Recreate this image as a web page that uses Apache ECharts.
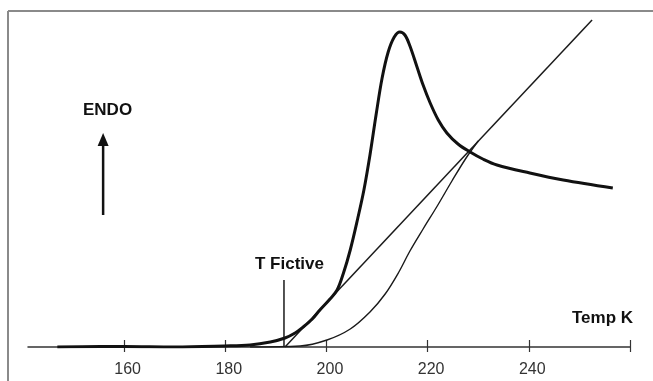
<!DOCTYPE html>
<html><head><meta charset="utf-8">
<script src="https://cdn.jsdelivr.net/npm/echarts@6/dist/echarts.min.js"></script>
<style>html,body{margin:0;padding:0;background:#fff}#c{width:653px;height:381px}</style>
</head><body><div id="c"></div>
<script>
// DSC heat-flow trace (arbitrary units) vs temperature (K)
const dscTemp   = [146.8, 155.3, 160, 170, 179.8, 184.9, 188.9, 191.8, 193.8, 195.4, 197.2, 198.7, 200.7, 202.1, 203.3, 204.7, 206.2, 207.4, 208.6, 209.8, 211.0, 212.2, 213.4, 214.5, 215.5, 216.5, 217.9, 219.1, 220.5, 222.1, 223.8, 226.0, 228.4, 230.9, 233.7, 240.2, 246.8, 256.6];
const dscSignal = [0, 0.5, 0.5, 0, 1, 2, 5, 9, 14, 20, 28, 37, 48, 57, 73, 97, 129, 157, 192, 232, 269, 295, 310, 315, 312, 301, 280, 262, 244, 227, 214, 203, 195, 188, 182, 174, 167, 159];
// Integrated (enthalpy-like) S-curve
const sTemp   = [184.9, 194.8, 200.1, 204.7, 208.6, 211.6, 214.2, 216.5, 219.1, 221.9, 224.8, 227.6, 230.0];
const sSignal = [0, 1, 7, 18, 35, 53, 74, 96, 118, 141, 166, 189, 206];
// Straight extrapolated line
const lineTemp   = [191.8, 252.5];
const lineSignal = [0, 327];
// T fictive marker
const tFictive = 191.6;
const tFictiveTop = 67;
// ENDO arrow
const arrowTemp = 155.85;
const arrowFrom = 132, arrowTo = 214;
// Axis
const tickValues  = [160, 180, 200, 220, 240, 260];
const labelValues = [160, 180, 200, 220, 240];

const zip = (a, b) => a.map((v, i) => [v, b[i]]);
const FONT = '"Liberation Sans", Arial, sans-serif';
const headH = 13;

const chart = echarts.init(document.getElementById('c'), null, {renderer: 'canvas'});
chart.setOption({
  animation: false,
  backgroundColor: '#fff',
  grid: {left: 28, right: 23, top: 11, bottom: 34},
  xAxis: [{
    type: 'value', min: 141, max: 260,
    splitLine: {show: false},
    axisLine: {show: true, lineStyle: {color: '#333', width: 1.5}},
    axisTick: {show: true, length: 5, customValues: tickValues, lineStyle: {color: '#333', width: 1.2}},
    axisLabel: {show: true, customValues: labelValues, margin: 15, padding: [0, 0, 0, 7],
      color: '#333', fontSize: 16, fontFamily: FONT}
  }, {
    type: 'value', min: 141, max: 260, position: 'bottom',
    splitLine: {show: false},
    axisLine: {show: false},
    axisTick: {show: true, inside: true, length: 7, customValues: tickValues, lineStyle: {color: '#333', width: 1.2}},
    axisLabel: {show: false}
  }],
  yAxis: {type: 'value', min: 0, max: 336, show: false},
  series: [
    {type: 'line', data: zip(sTemp, sSignal), showSymbol: false, smooth: 0.35,
     lineStyle: {color: '#1a1a1a', width: 1.4}},
    {type: 'line', data: zip(lineTemp, lineSignal), showSymbol: false,
     lineStyle: {color: '#1a1a1a', width: 1.5}},
    {type: 'line', data: [[tFictive, 0], [tFictive, tFictiveTop]], showSymbol: false,
     lineStyle: {color: '#1a1a1a', width: 1.5}},
    {type: 'line', data: zip(dscTemp, dscSignal), showSymbol: false, smooth: 0.35,
     lineStyle: {color: '#111', width: 3}},
    {type: 'line', data: [[arrowTemp, arrowFrom], [arrowTemp, arrowTo - headH + 2]], showSymbol: false,
     lineStyle: {color: '#111', width: 2.5}},
    {type: 'scatter', data: [[arrowTemp, arrowTo - headH / 2]], symbol: 'triangle', symbolSize: [11, headH],
     itemStyle: {color: '#111', opacity: 1}, silent: true}
  ],
  graphic: [
    {type: 'line', shape: {x1: 8, y1: 11, x2: 8, y2: 381}, style: {stroke: '#8a8a8a', lineWidth: 2}},
    {type: 'line', shape: {x1: 8, y1: 11, x2: 653, y2: 11}, style: {stroke: '#8a8a8a', lineWidth: 2}},
    {type: 'text', left: 83, top: 102, style: {text: 'ENDO', font: 'bold 17px ' + FONT, fill: '#111'}},
    {type: 'text', left: 255, top: 256, style: {text: 'T Fictive', font: 'bold 17px ' + FONT, fill: '#111'}},
    {type: 'text', left: 572, top: 310, style: {text: 'Temp K', font: 'bold 17px ' + FONT, fill: '#111'}}
  ]
});
</script></body></html>
